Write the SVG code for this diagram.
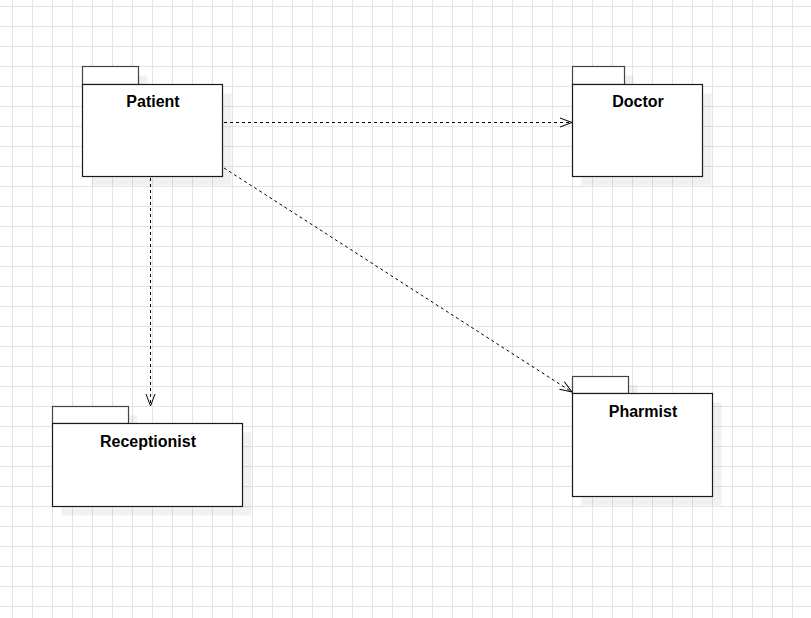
<svg xmlns="http://www.w3.org/2000/svg" width="811" height="618" viewBox="0 0 811 618">
  <defs>
    <pattern id="grid" x="0" y="0" width="20" height="20" patternUnits="userSpaceOnUse">
      <rect x="12" y="0" width="1" height="20" fill="#e4e4e4"/>
      <rect x="0" y="6" width="20" height="1" fill="#e4e4e4"/>
    </pattern>
    <marker id="open" viewBox="0 0 14 12" refX="13" refY="6" markerWidth="14" markerHeight="12" markerUnits="userSpaceOnUse" orient="auto">
      <path d="M1,1.5 L13,6 L1,10.5" fill="none" stroke="#000" stroke-width="1"/>
    </marker>
  </defs>
  <style>
    .shadow { fill: #000; fill-opacity: 0.055; }
    .tab { fill: #fff; stroke: #444; stroke-width: 1.2; }
    .body { fill: #fff; stroke: #1a1a1a; stroke-width: 1.2; }
    .label { font-family: "Liberation Sans", Arial, sans-serif; font-size: 16px; font-weight: bold; fill: #000; text-anchor: middle; }
    .dep { fill: none; stroke: #000; stroke-width: 1; stroke-dasharray: 3 3; marker-end: url(#open); }
  </style>

  <rect width="811" height="618" fill="#fff"/>
  <rect width="811" height="618" fill="url(#grid)"/>

  <!-- package: Patient -->
  <g id="patient">
    <path class="shadow" d="M91.5,75.5h56v18h84v92h-140z"/>
    <rect class="tab" x="82.5" y="66.5" width="56" height="18"/>
    <rect class="body" x="82.5" y="84.5" width="140" height="92"/>
    <text class="label" x="153" y="107">Patient</text>
  </g>

  <!-- package: Doctor -->
  <g id="doctor">
    <path class="shadow" d="M581.5,75.5h52v18h78v92h-130z"/>
    <rect class="tab" x="572.5" y="66.5" width="52" height="18"/>
    <rect class="body" x="572.5" y="84.5" width="130" height="92"/>
    <text class="label" x="638" y="107">Doctor</text>
  </g>

  <!-- package: Receptionist -->
  <g id="receptionist">
    <path class="shadow" d="M61.5,415.5h76v17h114v83h-190z"/>
    <rect class="tab" x="52.5" y="406.5" width="76" height="17"/>
    <rect class="body" x="52.5" y="423.5" width="190" height="83"/>
    <text class="label" x="148" y="447">Receptionist</text>
  </g>

  <!-- package: Pharmist -->
  <g id="pharmist">
    <path class="shadow" d="M581.5,385.5h56v17h84v103h-140z"/>
    <rect class="tab" x="572.5" y="376.5" width="56" height="17"/>
    <rect class="body" x="572.5" y="393.5" width="140" height="103"/>
    <text class="label" x="643" y="417">Pharmist</text>
  </g>

  <!-- dependencies -->
  <g id="connectors">
    <path class="dep" d="M224,122.5 L572,122.5"/>
    <path class="dep" d="M150.5,178 L150.5,406"/>
    <path class="dep" d="M224,168 L572,392"/>
  </g>
</svg>
